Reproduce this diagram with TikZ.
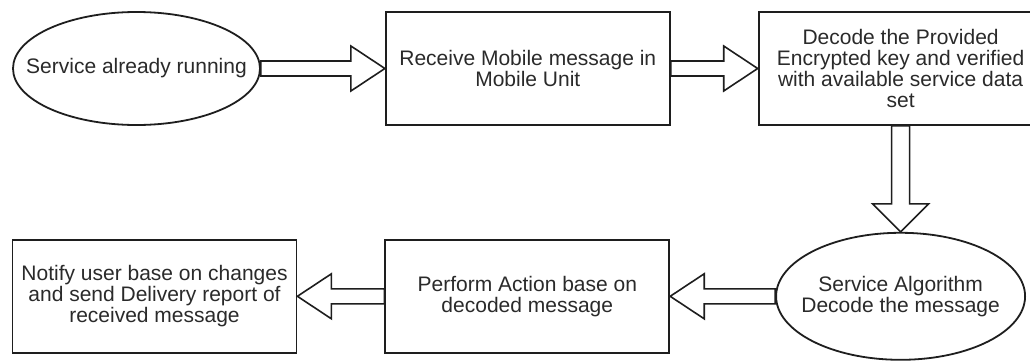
\documentclass[tikz,border=0pt]{standalone}
\usepackage{fontspec}
\setmainfont{Liberation Sans}
\usetikzlibrary{positioning,shapes.geometric,calc}
\definecolor{inkgray}{HTML}{1E1E1E}
\definecolor{textgray}{HTML}{2A2A2A}
\tikzset{
 box/.style={draw=inkgray,line width=0.9pt,align=center,minimum width=142pt,
             minimum height=56.5pt,inner sep=2pt,text=textgray,
             font=\fontsize{10.5}{10.4}\selectfont},
 oval/.style={ellipse,draw=inkgray,line width=0.9pt,align=center,
             inner xsep=-12pt,inner ysep=0pt,text=textgray,
             font=\fontsize{10.5}{10.4}\selectfont},
 fatarrow/.style n args={3}{draw=inkgray,line width=0.8pt,fill=white,
   to path={let \p1=(\tikztostart),\p2=(\tikztotarget),
                \p4=($(\p2)!#3!(\p1)$) in
     ($(\p1)!#1!90:(\p2)$) -- ($(\p4)!#1!90:(\p2)$) -- ($(\p4)!#2!90:(\p2)$)
     -- (\p2) -- ($(\p4)!#2!-90:(\p2)$) -- ($(\p4)!#1!-90:(\p2)$)
     -- ($(\p1)!#1!-90:(\p2)$) -- cycle}}
}
\begin{document}
\begin{tikzpicture}
\path[use as bounding box,fill=white] (0,0) rectangle (515pt,180pt);
\node[oval,minimum width=123.5pt,minimum height=56.5pt] (start) at (68.25pt,145.75pt) {Service already running};
\node[box,right=62pt of start] (recv) {Receive Mobile message in\\Mobile Unit};
\node[box,right=43.5pt of recv] (decode) {Decode the Provided\\Encrypted key and verified\\with available service data\\set};
\node[oval,below=53pt of decode,minimum width=124.5pt,minimum height=63.5pt] (algo) {Service Algorithm\\Decode the message};
\node[box,left=52.5pt of algo] (perform) {Perform Action base on\\decoded message};
\node[box,left=43.5pt of perform] (notify) {Notify user base on changes\\and send Delivery report of\\received message};
\draw[fatarrow={3.75pt}{11.25pt}{17pt}] (start.east) to (recv.west);
\draw[fatarrow={3.75pt}{11.25pt}{17pt}] (recv.east) to (decode.west);
\draw[fatarrow={4.5pt}{14pt}{14pt}] (decode.south) to (algo.north);
\draw[fatarrow={3.75pt}{11.25pt}{17pt}] (algo.west) to (perform.east);
\draw[fatarrow={3.75pt}{11.25pt}{17pt}] (perform.west) to (notify.east);
\end{tikzpicture}
\end{document}
